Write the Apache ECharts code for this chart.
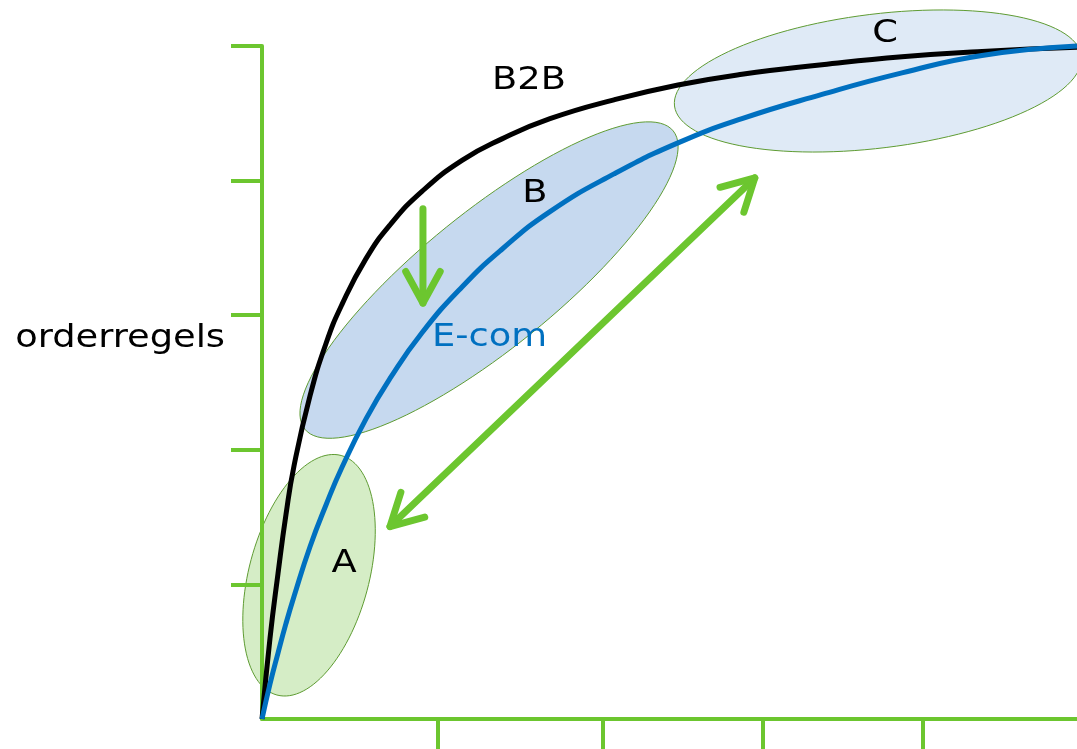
<!DOCTYPE html>
<html>
<head>
    <meta charset="UTF-8">
    <title>orderregels</title>
    <script src="https://cdn.jsdelivr.net/npm/echarts@6/dist/echarts.min.js"></script>
    <style>
        *{ padding: 0; margin: 0; }
        #main{ width: 1077px; height: 749px; background: #fff; }
    </style>
</head>
<body>
<div id="main"></div>
<script>
// curves (x: distance along axis, y: orderregels)
var xs   = [0, 0.05, 0.1, 0.15, 0.2, 0.3, 0.4, 0.5, 0.65, 0.8, 1.0, 1.25, 1.5, 1.8, 2.2, 2.6, 3.0, 3.5, 4.0, 4.5, 5.094];
var b2b  = [0, 0.60, 1.08, 1.52, 1.88, 2.40, 2.79, 3.08, 3.42, 3.67, 3.92, 4.15, 4.31, 4.46, 4.60, 4.71, 4.79, 4.86, 4.92, 4.96, 4.99];
var ecom = [0, 0.26, 0.49, 0.71, 0.91, 1.28, 1.59, 1.87, 2.23, 2.53, 2.87, 3.21, 3.49, 3.77, 4.05, 4.28, 4.46, 4.64, 4.80, 4.93, 5.0];
// zones A, B, C (centres)
var zones = [[0.294, 1.068], [1.419, 3.261], [3.85, 4.74]];
// arrows: from x,y to x,y, double headed
var arrows = [[1.006, 3.79, 1.006, 3.09, 0], [3.08, 4.02, 0.80, 1.43, 1]];
// texts
var labels = [
    ['B2B', 1.669, 4.740, '#000', 'center'],
    ['B', 1.706, 3.902, '#000', 'center'],
    ['C', 3.894, 5.089, '#000', 'center'],
    ['A', 0.5125, 1.157, '#000', 'center'],
    ['E-com', 1.422, 2.834, '#0070C0', 'center'],
    ['orderregels', -0.231, 2.826, '#000', 'right']
];
var xTicks = [1.1, 2.13, 3.13, 4.13];
var yTicks = [1, 2, 3, 4, 5];

var green = '#6CC62F';
// ellipse look: semi axes in px, tilt in degrees, fill
var zoneShape = [
    {rx: 124, ry: 60, rot: 75, fill: '#D5EDC6'},
    {rx: 237, ry: 68, rot: 39, fill: '#C6D9EF'},
    {rx: 205, ry: 67, rot: 7, fill: '#DFEAF6'}
];

function pairs(ys) {
    return xs.map(function (x, i) { return [x, ys[i]]; });
}

var myChart = echarts.init(document.getElementById('main'));

function ellipsePoints(cx, cy, a, b, deg) {
    var t = deg * Math.PI / 180, pts = [];
    for (var i = 0; i < 120; i++) {
        var u = i / 120 * Math.PI * 2;
        var ex = a * Math.cos(u), ey = b * Math.sin(u);
        pts.push([cx + ex * Math.cos(t) + ey * Math.sin(t), cy - ex * Math.sin(t) + ey * Math.cos(t)]);
    }
    return pts;
}

function head(tip, from, len, ang) {
    var dx = tip[0] - from[0], dy = tip[1] - from[1];
    var l = Math.sqrt(dx * dx + dy * dy);
    dx /= l; dy /= l;
    var out = [];
    [ang, -ang].forEach(function (a) {
        var c = Math.cos(a), s = Math.sin(a);
        var rx = dx * c - dy * s, ry = dx * s + dy * c;
        out.push([tip[0] - rx * len, tip[1] - ry * len]);
    });
    return [out[0], tip, out[1]];
}

var option = {
    animation: false,
    grid: {left: 262, right: 0, top: 46, bottom: 30},
    xAxis: {
        type: 'value', min: 0, max: 5.094, z: 1.5,
        splitLine: {show: false},
        axisLine: {lineStyle: {color: green, width: 4}},
        axisTick: {show: true, length: 30, customValues: xTicks, lineStyle: {color: green, width: 4}},
        axisLabel: {show: false}
    },
    yAxis: {
        type: 'value', min: 0, max: 5, interval: 1, z: 1.5,
        splitLine: {show: false},
        axisLine: {show: true, lineStyle: {color: green, width: 4}},
        axisTick: {show: true, length: 31, customValues: yTicks, lineStyle: {color: green, width: 4}},
        axisLabel: {show: false}
    },
    series: [
        {
            type: 'custom', z: 1, clip: false,
            data: zones,
            renderItem: function (params, api) {
                var c = api.coord([api.value(0), api.value(1)]);
                var z = zoneShape[params.dataIndex];
                return {
                    type: 'polygon',
                    shape: {points: ellipsePoints(c[0], c[1], z.rx, z.ry, z.rot)},
                    style: {fill: z.fill, stroke: '#5E9B32', lineWidth: 1}
                };
            }
        },
        {
            type: 'line', name: 'B2B', z: 2, data: pairs(b2b), smooth: true, showSymbol: false, clip: false,
            lineStyle: {color: '#000', width: 5}
        },
        {
            type: 'line', name: 'E-com', z: 2, data: pairs(ecom), smooth: true, showSymbol: false, clip: false,
            lineStyle: {color: '#0070C0', width: 5}
        },
        {
            type: 'custom', z: 3, clip: false,
            data: arrows,
            renderItem: function (params, api) {
                var p1 = api.coord([api.value(0), api.value(1)]);
                var p2 = api.coord([api.value(2), api.value(3)]);
                var st = {stroke: green, lineWidth: 7, fill: null, lineCap: 'round', lineJoin: 'round'};
                var kids = [
                    {type: 'line', shape: {x1: p1[0], y1: p1[1], x2: p2[0], y2: p2[1]}, style: st},
                    {type: 'polyline', shape: {points: head(p2, p1, 36, 0.5)}, style: st}
                ];
                if (api.value(4)) {
                    kids.push({type: 'polyline', shape: {points: head(p1, p2, 36, 0.5)}, style: st});
                }
                return {type: 'group', children: kids};
            }
        },
        {
            type: 'custom', z: 4, clip: false,
            data: labels.map(function (d) { return [d[1], d[2]]; }),
            renderItem: function (params, api) {
                var d = labels[params.dataIndex];
                var c = api.coord([api.value(0), api.value(1)]);
                return {
                    type: 'text', x: c[0], y: c[1], scaleX: 1.15,
                    style: {
                        text: d[0], fill: d[3], align: d[4], verticalAlign: 'middle',
                        fontSize: 32, fontFamily: 'DejaVu Sans'
                    }
                };
            }
        }
    ]
};

myChart.setOption(option);
</script>
</body>
</html>
